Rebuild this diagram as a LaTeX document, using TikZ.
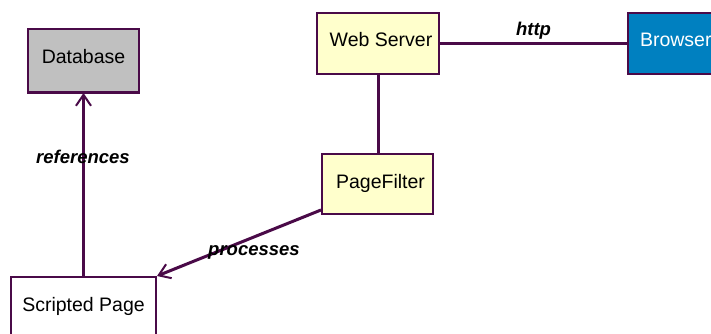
\documentclass[tikz,border=0pt]{standalone}
\usepackage{fontspec}
\setmainfont{Liberation Sans}
\usetikzlibrary{arrows.meta,calc}
\definecolor{edge}{HTML}{4A0A48}
\definecolor{dbfill}{HTML}{C0C0C0}
\definecolor{yfill}{HTML}{FFFFCC}
\definecolor{bfill}{HTML}{0080C0}
\begin{document}
\begin{tikzpicture}[x=1pt,y=-1pt,
  box/.style={draw=edge, line width=2pt, rectangle, inner sep=0pt,
              anchor=north west, font=\fontsize{19.5}{21}\selectfont},
  conn/.style={draw=edge, line width=3pt},
  lbl/.style={font=\fontsize{18.5}{20}\selectfont\bfseries\itshape, inner sep=0pt},
  opentip/.style={-{Straight Barb[length=11pt,width=15pt,line width=2pt]}}
]
\useasboundingbox (0,0) rectangle (711,334);
\clip (0,0) rectangle (711,334);

% classes (names sit a little above the box centre)
\node[box, fill=dbfill, minimum width=111pt, minimum height=63pt] (db) at (27,28) {\raisebox{8pt}{Database}};
\node[box, fill=yfill, minimum width=122pt, minimum height=61pt] (ws) at (316,12) {\raisebox{8pt}{\hspace{6pt}Web Server}};
\node[box, fill=bfill, text=white, minimum height=61pt, inner xsep=12pt,
      text width=98pt, align=left] (br) at (627,12) {\raisebox{8pt}{Browser}};
\node[box, fill=yfill, minimum width=111pt, minimum height=60pt] (pf) at (321,153) {\raisebox{6pt}{\hspace{6pt}PageFilter}};
\node[box, fill=white, minimum width=145pt, minimum height=70pt] (sp) at (10,276) {\raisebox{16pt}{Scripted Page}};
\draw[edge, line width=3pt] (db.south west) -- (db.south east);

% associations
\draw[conn] (ws.east) -- node[lbl, above=3pt] (http) {http} (br.west);
\draw[conn] (ws.south) -- (ws.south |- pf.north);
\draw[conn, opentip] (sp.north) -- (db.south);
\node[lbl] (refs) at (83,157) {references};
\coordinate (pfout) at ($(pf.south west)+(0,-5)$);
\draw[conn, opentip] (pfout) -- (sp.north east);
\node[lbl] (proc) at (254,252) {processes};
\end{tikzpicture}
\end{document}
